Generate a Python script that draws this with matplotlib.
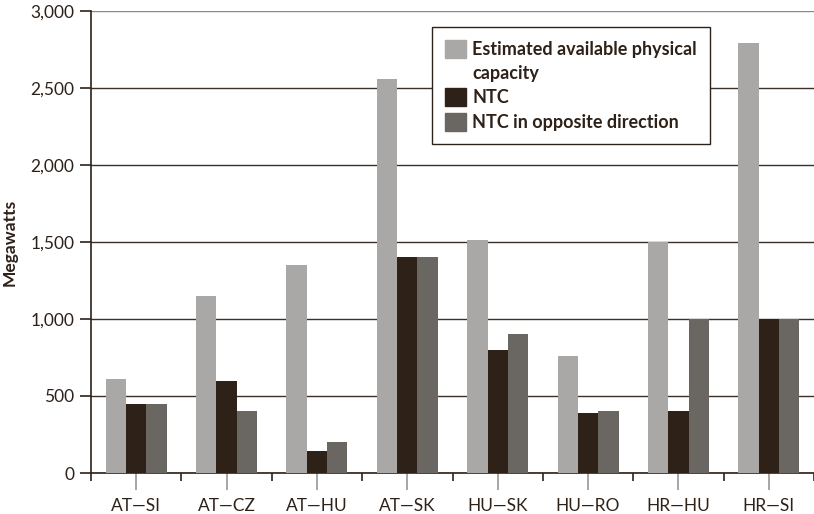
import matplotlib.pyplot as plt
import matplotlib.patches as mpatches
import numpy as np

borders = ['AT—SI', 'AT—CZ', 'AT—HU', 'AT—SK', 'HU—SK', 'HU—RO', 'HR—HU', 'HR—SI']
physical = [610, 1150, 1350, 2560, 1510, 760, 1500, 2790]
ntc = [450, 600, 140, 1400, 800, 390, 400, 1000]
ntc_opposite = [450, 400, 200, 1400, 900, 400, 1000, 1000]

c_phys = '#a9a8a6'
c_ntc = '#2e2118'
c_opp = '#6a6762'
ink = '#2e2118'

plt.rcParams['font.family'] = ['Lato', 'DejaVu Sans']
plt.rcParams['text.color'] = ink

fig = plt.figure(figsize=(8.14, 5.14), dpi=100)
ax = fig.add_axes([91 / 814, 41 / 514, 723 / 814, 462 / 514])

x = np.arange(len(borders))
w = 0.225
ax.bar(x - w, physical, w, color=c_phys, zorder=3)
ax.bar(x, ntc, w, color=c_ntc, zorder=3)
ax.bar(x + w, ntc_opposite, w, color=c_opp, zorder=3)

ax.set_xlim(-0.5, 7.42)
ax.set_ylim(0, 3000)
ax.set_yticks(np.arange(0, 3001, 500))
ax.set_yticklabels([f'{v:,}' for v in range(0, 3001, 500)], fontsize=12.5, color=ink)
ax.set_xticks(x)
ax.set_xticklabels(borders, fontsize=12.5, color=ink)
ax.set_xticks(np.arange(-0.5, 7.6, 1), minor=True)

ax.tick_params(axis='y', length=8, width=1.2, color=ink, pad=4)
ax.tick_params(axis='x', which='major', length=12, width=1.2, color='#9a9794', pad=6)
ax.tick_params(axis='x', which='minor', length=6, width=1.2, color=ink)

ax.yaxis.grid(True, color='#3b3029', linewidth=1.0, zorder=1)
ax.set_axisbelow(True)
ax.yaxis.get_gridlines()[-1].set_color('#8c8782')
ax.yaxis.get_major_ticks()[-1].tick1line.set_color('#8c8782')

for side in ['top', 'right']:
    ax.spines[side].set_visible(False)
ax.spines['left'].set_color(ink)
ax.spines['left'].set_linewidth(1.2)
ax.spines['bottom'].set_color(ink)
ax.spines['bottom'].set_linewidth(1.2)

ax.set_ylabel('Megawatts', fontsize=12.5, fontweight='bold', color=ink, labelpad=9)

# the empty patch gives the wrapped second line of the first label its own row
handles = [
    mpatches.Patch(color=c_phys),
    mpatches.Patch(color='none'),
    mpatches.Patch(color=c_ntc),
    mpatches.Patch(color=c_opp),
]
labels = ['Estimated available physical', 'capacity', 'NTC', 'NTC in opposite direction']
leg = ax.legend(handles, labels, loc='upper left', bbox_to_anchor=(0.4716, 0.9654),
                borderaxespad=0, fancybox=False, framealpha=1, edgecolor=ink,
                prop={'size': 13, 'weight': 'bold'}, handlelength=1.15, handleheight=1.15,
                labelspacing=0.34, handletextpad=0.35, borderpad=0.72)
leg.get_frame().set_linewidth(1.0)
leg.set_zorder(5)

plt.savefig('out.png', dpi=100)
